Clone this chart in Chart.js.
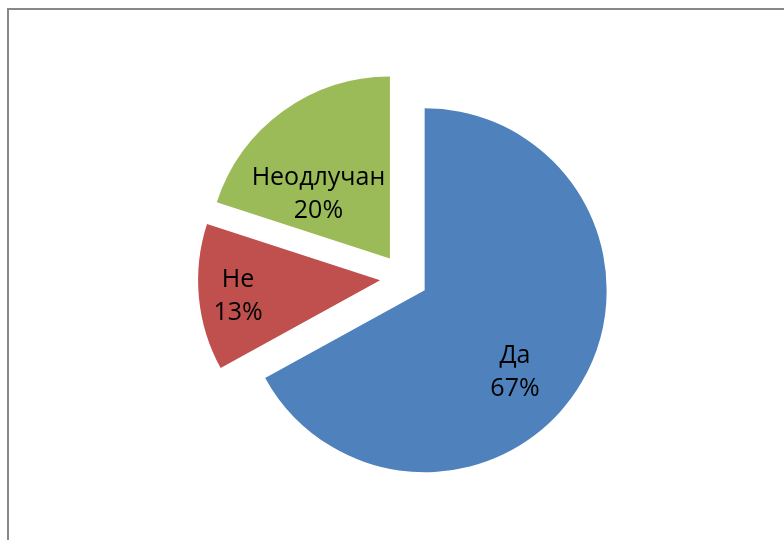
<!DOCTYPE html>
<html>
<head>
<meta charset="utf-8">
<script src="https://cdn.jsdelivr.net/npm/chart.js@4"></script>
<style>
  html, body { margin: 0; padding: 0; background: #fff; overflow: hidden; }
  #frame {
    position: absolute; left: 7px; top: 8px;
    width: 1000px; height: 1000px;
    border: 2px solid #888;
  }
  #wrap { position: absolute; left: 0; top: 0; width: 784px; height: 540px; }
</style>
</head>
<body>
<div id="frame"></div>
<div id="wrap"><canvas id="pie" width="784" height="540"></canvas></div>
<script>
// Answers and their shares (%)
const answers = ['Да', 'Не', 'Неодлучан'];
const shares = [67, 13, 20];
const sliceColors = ['#4F81BD', '#C0504D', '#9BBB59'];

// Where each label sits: fraction of radius and a small turn (deg) off the slice middle
const labelSpots = [
    { r: 0.67, turn: 11.6 },
    { r: 0.785, turn: -0.9 },
    { r: 0.53, turn: -11.8 }
];

const PIE_RADIUS = 182;
const EXPLODE = 24;          // px each slice is pulled out

// Chart.js grows big exploded slices by offset*fix and trims their angle a bit;
// undo both so every slice keeps one radius and its true edges
const evenRadiusPlugin = {
    id: 'evenRadius',
    afterDatasetUpdate(chart, args) {
        const meta = chart.getDatasetMeta(args.index);
        meta.data.forEach(arc => {
            const fix = 1 - Math.sin(Math.min(Math.PI, arc.circumference || 0));
            const grow = EXPLODE * fix;
            arc.outerRadius = meta.controller.outerRadius - grow;
            const trim = (grow / Math.PI) / meta.controller.outerRadius / 2;
            arc.startAngle -= trim;
            arc.endAngle += trim;
        });
    }
};

// Category name + percentage inside every slice
const sliceLabelPlugin = {
    id: 'sliceLabels',
    afterDatasetsDraw(chart) {
        const { ctx } = chart;
        const meta = chart.getDatasetMeta(0);
        ctx.save();
        ctx.font = '25px "Open Sans", sans-serif';
        ctx.fillStyle = '#000';
        ctx.textAlign = 'center';
        ctx.textBaseline = 'middle';
        meta.data.forEach((arc, i) => {
            const mid = (arc.startAngle + arc.endAngle) / 2;
            const ax = arc.x + Math.cos(mid) * EXPLODE;
            const ay = arc.y + Math.sin(mid) * EXPLODE;
            const spot = labelSpots[i];
            const a = mid + spot.turn * Math.PI / 180;
            const x = ax + Math.cos(a) * PIE_RADIUS * spot.r;
            const y = ay + Math.sin(a) * PIE_RADIUS * spot.r;
            ctx.fillText(answers[i], x, y - 16);
            ctx.fillText(shares[i] + '%', x, y + 17);
        });
        ctx.restore();
    }
};

new Chart(document.getElementById('pie'), {
    type: 'pie',
    data: {
        labels: answers,
        datasets: [{
            data: shares,
            backgroundColor: sliceColors,
            borderWidth: 0,
            offset: EXPLODE * 4,
            radius: PIE_RADIUS
        }]
    },
    options: {
        responsive: false,
        animation: false,
        events: [],
        layout: { padding: { left: 24, top: 16, right: 0, bottom: 0 } },
        plugins: {
            legend: { display: false },
            tooltip: { enabled: false }
        }
    },
    plugins: [evenRadiusPlugin, sliceLabelPlugin]
});
</script>
</body>
</html>
